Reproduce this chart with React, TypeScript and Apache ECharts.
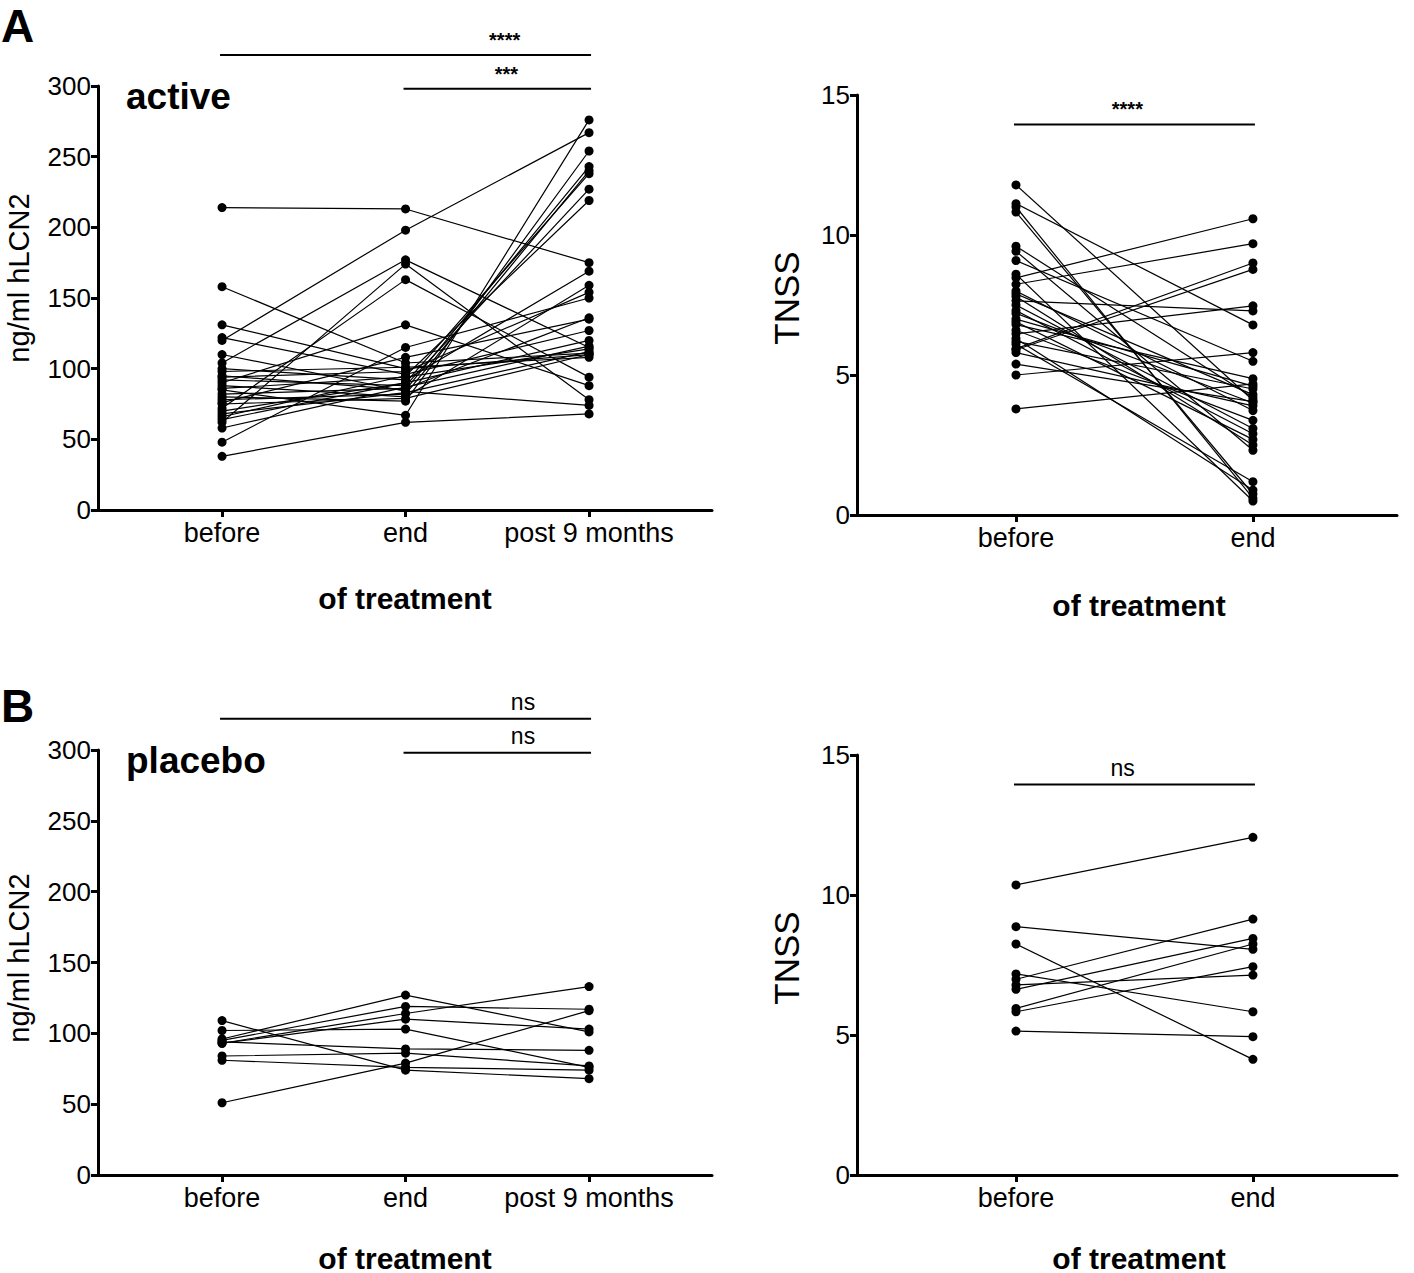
import React, { useEffect, useRef } from "react";
import * as echarts from "echarts";

// ---------- categories / ticks ----------
const cats3 = ["before", "end", "post 9 months"];
const cats2 = ["before", "end"];
const lcnTicks = [0, 50, 100, 150, 200, 250, 300];
const tnssTicks = [0, 5, 10, 15];

// ---------- A: active, hLCN2 (ng/ml) ----------
const activeBefore = [214, 120, 104, 62, 72, 90, 158, 131, 38, 48, 85, 80, 95, 78, 70, 92, 66, 110, 100, 88, 94, 82, 76, 122, 68, 86, 58, 98, 75, 64];
const activeEnd = [213, 198, 177, 174, 163, 131, 104, 100, 62, 115, 67, 77, 85, 82, 90, 88, 95, 84, 92, 80, 98, 86, 108, 96, 83, 94, 87, 101, 79, 90];
const activePost = [175, 267, 115, 78, 94, 88, 111, 110, 68, 150, 276, 254, 243, 240, 238, 227, 219, 74, 169, 159, 154, 136, 135, 127, 112, 114, 116, 108, 110, 120];

// ---------- A: active, TNSS ----------
const activeTnssBefore = [11.79, 11.12, 11.0, 10.82, 9.6, 9.42, 9.09, 8.6, 8.47, 8.24, 8.0, 7.9, 7.8, 7.65, 7.5, 7.3, 7.2, 7.0, 6.9, 6.8, 6.6, 6.47, 6.3, 6.2, 6.1, 5.94, 5.9, 5.8, 5.39, 5.0, 3.79];
const activeTnssEnd = [4.1, 6.79, 0.6, 0.75, 4.2, 2.31, 5.49, 0.5, 10.58, 9.69, 3.73, 4.3, 2.5, 7.29, 3.09, 2.9, 4.0, 4.6, 2.7, 4.87, 3.38, 7.47, 0.89, 4.5, 1.19, 9.0, 8.77, 3.9, 4.05, 5.8, 4.68];

// ---------- B: placebo, hLCN2 ----------
const placeboBefore = [109, 102, 96, 95, 93, 94, 84, 81, 51, 93];
const placeboEnd = [74, 103, 127, 119, 114, 89, 86, 76, 79, 110];
const placeboPost = [68, 76, 101, 117, 133, 88, 77, 74, 116, 103];

// ---------- B: placebo, TNSS ----------
const placeboTnssBefore = [10.36, 8.87, 8.25, 7.18, 6.99, 6.79, 6.63, 5.95, 5.83, 5.14];
const placeboTnssEnd = [12.06, 8.06, 4.13, 5.83, 9.14, 7.14, 8.45, 8.25, 7.44, 4.94];

// ---------- significance annotations ----------
const sigBars = [
  { grid: 0, from: 0, to: 2, level: 322, label: "****", labelX: 1.54 },
  { grid: 0, from: 1, to: 2, level: 298, label: "***", labelX: 1.55 },
  { grid: 1, from: 0, to: 1, level: 13.95, label: "****", labelX: 0.47 },
  { grid: 2, from: 0, to: 2, level: 322, label: "ns", labelX: 1.64 },
  { grid: 2, from: 1, to: 2, level: 298, label: "ns", labelX: 1.64 },
  { grid: 3, from: 0, to: 1, level: 13.95, label: "ns", labelX: 0.45 },
];

// ---------- titles ----------
const yTitles = ["ng/ml hLCN2", "TNSS", "ng/ml hLCN2", "TNSS"];
const xTitle = "of treatment";
const groupTitles = ["active", "placebo"];
const panelLetters = ["A", "B"];

const FONT = "'Liberation Sans', Arial, Helvetica, sans-serif";

function buildSeries(gridIdx: number, cols: number[][]) {
  const n = cols[0].length;
  const out: any[] = [];
  for (let i = 0; i < n; i++) {
    out.push({
      type: "line",
      xAxisIndex: gridIdx,
      yAxisIndex: gridIdx,
      data: cols.map((c, k) => [k, c[i]]),
      symbol: "circle",
      symbolSize: 9,
      itemStyle: { color: "#000" },
      lineStyle: { color: "#000", width: 1.2 },
      emphasis: { disabled: true },
      silent: true,
    });
  }
  return out;
}

function xAxis(gridIdx: number, cats: string[], min: number, max: number, nameGap: number, shift: number) {
  const vals = cats.map((_, i) => i);
  return {
    type: "value",
    gridIndex: gridIdx,
    min,
    max,
    name: xTitle,
    nameLocation: "middle",
    nameGap,
    nameTextStyle: {
      fontFamily: FONT,
      fontSize: 30,
      fontWeight: "bold",
      color: "#000",
      padding: shift > 0 ? [0, 0, 0, shift] : [0, -shift, 0, 0],
    },
    axisLine: { show: true, onZero: false, lineStyle: { color: "#000", width: 3 } },
    axisTick: { show: true, length: 7, lineStyle: { color: "#000", width: 3 }, customValues: vals },
    axisLabel: {
      show: true,
      customValues: vals,
      formatter: (v: number) => cats[Math.round(v)] ?? "",
      fontFamily: FONT,
      fontSize: 27,
      color: "#000",
      margin: 9,
    },
    splitLine: { show: false },
  };
}

function yAxis(gridIdx: number, ticks: number[]) {
  return {
    type: "value",
    gridIndex: gridIdx,
    min: ticks[0],
    max: ticks[ticks.length - 1],
    interval: ticks[1] - ticks[0],
    axisLine: { show: true, onZero: false, lineStyle: { color: "#000", width: 3 } },
    axisTick: { show: true, length: 7, lineStyle: { color: "#000", width: 3 } },
    axisLabel: { fontFamily: FONT, fontSize: 26, color: "#000", margin: 7 },
    splitLine: { show: false },
  };
}

export default function App() {
  const ref = useRef<HTMLDivElement>(null);
  useEffect(() => {
    if (!ref.current) return;
    const chart = echarts.init(ref.current, null, { renderer: "svg" });
    const option: any = {
      animation: false,
      backgroundColor: "#fff",
      grid: [
        { left: 98, top: 86, width: 614, height: 424, outerBoundsMode: "none", containLabel: false },
        { left: 857, top: 95, width: 540, height: 420, outerBoundsMode: "none", containLabel: false },
        { left: 98, top: 750, width: 614, height: 425, outerBoundsMode: "none", containLabel: false },
        { left: 857, top: 755, width: 540, height: 420, outerBoundsMode: "none", containLabel: false },
      ],
      xAxis: [
        xAxis(0, cats3, -0.676, 2.67, 73, 0),
        xAxis(1, cats2, -0.671, 1.608, 75, 24),
        xAxis(2, cats3, -0.676, 2.67, 68, 0),
        xAxis(3, cats2, -0.671, 1.608, 68, 24),
      ],
      yAxis: [yAxis(0, lcnTicks), yAxis(1, tnssTicks), yAxis(2, lcnTicks), yAxis(3, tnssTicks)],
      series: [
        ...buildSeries(0, [activeBefore, activeEnd, activePost]),
        ...buildSeries(1, [activeTnssBefore, activeTnssEnd]),
        ...buildSeries(2, [placeboBefore, placeboEnd, placeboPost]),
        ...buildSeries(3, [placeboTnssBefore, placeboTnssEnd]),
      ],
    };
    chart.setOption(option);

    const px = (g: number, x: number, y: number) =>
      chart.convertToPixel({ xAxisIndex: g, yAxisIndex: g } as any, [x, y]) as number[];

    const graphics: any[] = [
      { type: "text", x: 1, y: 3, style: { text: panelLetters[0], fontFamily: FONT, fontSize: 46, fontWeight: "bold", fill: "#000", verticalAlign: "top" } },
      { type: "text", x: 1, y: 683, style: { text: panelLetters[1], fontFamily: FONT, fontSize: 46, fontWeight: "bold", fill: "#000", verticalAlign: "top" } },
      { type: "text", x: 126, y: 96, style: { text: groupTitles[0], fontFamily: FONT, fontSize: 37, fontWeight: "bold", fill: "#000", verticalAlign: "middle" } },
      { type: "text", x: 126, y: 760, style: { text: groupTitles[1], fontFamily: FONT, fontSize: 37, fontWeight: "bold", fill: "#000", verticalAlign: "middle" } },
    ];
    // y-axis titles (rotated)
    const yTitlePos = [
      { x: 19, y: 278, size: 29 },
      { x: 786, y: 298, size: 35 },
      { x: 19, y: 958, size: 29 },
      { x: 786, y: 958, size: 35 },
    ];
    yTitles.forEach((t, i) => {
      graphics.push({
        type: "text",
        x: yTitlePos[i].x,
        y: yTitlePos[i].y,
        rotation: Math.PI / 2,
        style: {
          text: t,
          fontFamily: FONT,
          fontSize: yTitlePos[i].size,
          fill: "#000",
          align: "center",
          verticalAlign: "middle",
        },
      });
    });
    sigBars.forEach((b) => {
      const p1 = px(b.grid, b.from, b.level);
      const p2 = px(b.grid, b.to, b.level);
      const pl = px(b.grid, b.labelX, b.level);
      graphics.push({
        type: "line",
        shape: { x1: p1[0] - 2, y1: p1[1], x2: p2[0] + 2, y2: p2[1] },
        style: { stroke: "#000", lineWidth: 2 },
      });
      const isStar = b.label.indexOf("*") >= 0;
      graphics.push({
        type: "text",
        x: pl[0],
        y: p1[1] - 5,
        style: {
          text: b.label,
          fontFamily: FONT,
          fontSize: isStar ? 20 : 23,
          fontWeight: isStar ? "bold" : "normal",
          fill: "#000",
          align: "center",
          verticalAlign: "bottom",
        },
      });
    });
    chart.setOption({ graphic: graphics });

    return () => chart.dispose();
  }, []);
  return (
    <div
      ref={ref}
      style={{ position: "absolute", left: 0, top: 0, width: 1414, height: 1273, background: "#fff" }}
    />
  );
}
